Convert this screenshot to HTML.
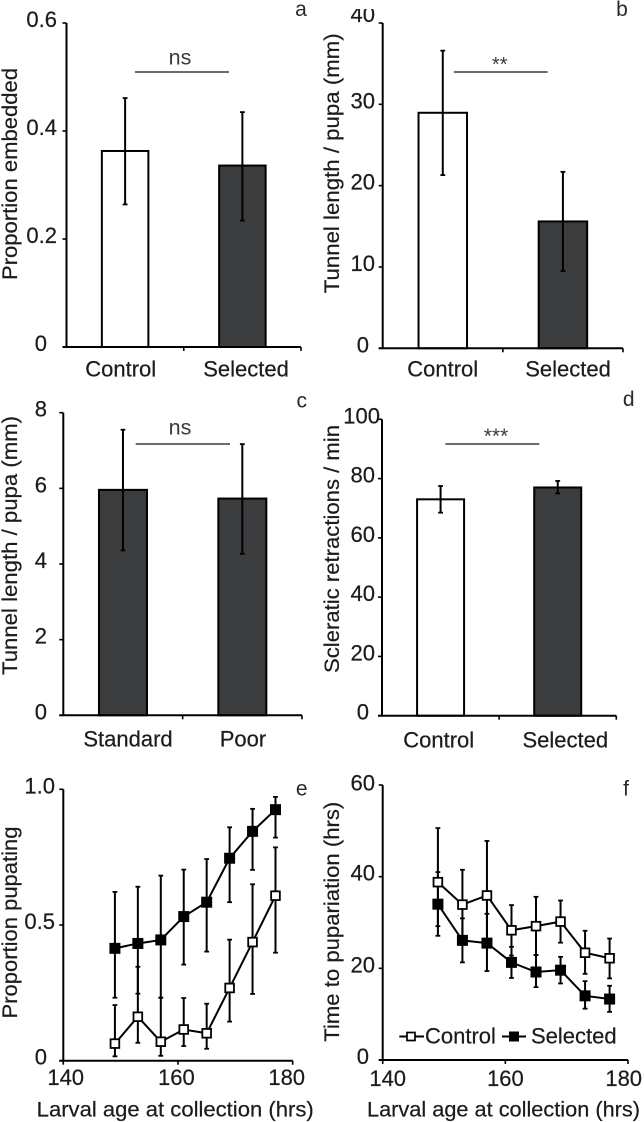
<!DOCTYPE html>
<html lang="en">
<head>
<meta charset="utf-8">
<title>Tunnelling and pupation behaviour charts</title>
<style>
html,body{margin:0;padding:0;background:#fff;}
svg{display:block;}
text{font-family:"Liberation Sans",Arial,sans-serif;fill:#1c1c1c;stroke:#1c1c1c;stroke-width:.22px;}
</style>
</head>
<body>
<svg id="figure" xmlns="http://www.w3.org/2000/svg" width="644" height="1122" viewBox="0 0 644 1122"></svg>
<script>
// Panel a
const catsA = ['Control', 'Selected'];
const valsA = [0.363, 0.336];
const highA = [0.461, 0.435];
const lowA = [0.264, 0.234];
const ticksA = ['0', '0.2', '0.4', '0.6'];
const fillsA = ['control', 'selected'];
// Panel b
const catsB = ['Control', 'Selected'];
const valsB = [28.96, 15.6];
const highB = [36.6, 21.7];
const lowB = [21.3, 9.5];
const ticksB = ['0', '10', '20', '30', '40'];
const fillsB = ['control', 'selected'];
// Panel c
const catsC = ['Standard', 'Poor'];
const valsC = [5.96, 5.73];
const highC = [7.55, 7.17];
const lowC = [4.36, 4.27];
const ticksC = ['0', '2', '4', '6', '8'];
const fillsC = ['selected', 'selected'];
// Panel d
const catsD = ['Control', 'Selected'];
const valsD = [73, 77];
const highD = [77.5, 79.2];
const lowD = [68.5, 75];
const ticksD = ['0', '20', '40', '60', '80', '100'];
const fillsD = ['control', 'selected'];
// Panel e
const hoursE = [149, 153, 157, 161, 165, 169, 173, 177];
const controlE = [0.063, 0.162, 0.07, 0.115, 0.101, 0.268, 0.437, 0.608];
const controlHighE = [0.205, 0.346, 0.232, 0.231, 0.21, 0.446, 0.65, 0.786];
const controlLowE = [0.016, 0.066, 0.018, 0.054, 0.044, 0.144, 0.246, 0.398];
const selectedE = [0.414, 0.432, 0.445, 0.531, 0.584, 0.746, 0.845, 0.925];
const selectedHighE = [0.622, 0.641, 0.682, 0.704, 0.743, 0.86, 0.928, 0.972];
const selectedLowE = [0.232, 0.247, 0.232, 0.354, 0.402, 0.584, 0.703, 0.822];
const yTicksE = ['0', '0.5', '1.0'];
const xTicksE = ['140', '160', '180'];
// Panel f
const hoursF = [149, 153, 157, 161, 165, 169, 173, 177];
const controlF = [38.8, 33.9, 35.9, 28.3, 29.2, 30.2, 23.4, 22.2];
const controlHighF = [50.6, 41.5, 47.8, 33.8, 35.6, 34.8, 28.2, 26.5];
const controlLowF = [29.2, 26.5, 24.7, 22.8, 22.9, 25.6, 18.8, 17.8];
const selectedF = [34.0, 26.1, 25.5, 21.3, 19.2, 19.6, 14.0, 13.3];
const selectedHighF = [41, 30.9, 31.9, 24.7, 22.9, 22.5, 17.2, 16.2];
const selectedLowF = [27.1, 21.3, 19.4, 17.9, 15.9, 16.7, 11.2, 10.5];
const yTicksF = ['0', '20', '40', '60'];
const xTicksF = ['140', '160', '180'];

const svg = document.getElementById('figure');
const INK = '#000';
const DARK = '#3a3c3e';

function el(tag, attrs, parent, txt) {
  const n = document.createElementNS('http://www.w3.org/2000/svg', tag);
  for (const k in attrs) n.setAttribute(k, attrs[k]);
  if (txt !== undefined) n.textContent = txt;
  (parent || svg).appendChild(n);
  return n;
}
function linear(d0, d1, r0, r1) {
  return function (v) { return r0 + (v - d0) / (d1 - d0) * (r1 - r0); };
}

function drawFrame(g, L, yTicks, yScale) {
  const yAxis = el('line', {x1: L.left, x2: L.left, y1: L.top, y2: L.bottom, stroke: INK, 'stroke-width': 2}, g);
  
  
  const xAxis = el('line', {x1: L.left - 4, x2: L.right, y1: L.bottom, y2: L.bottom, stroke: INK, 'stroke-width': 2}, g);
  
  
  yTicks.forEach(function (t, i) {
    const y = yScale(Number(t));
    const tick = el('line', {x1: L.left - 4, x2: L.left, y1: y, y2: y, stroke: INK, 'stroke-width': 1.6}, g);
    
    
    const right = Number(t) === 0 ? L.zeroRight : L.tickRight + (t.length === 3 && L.wide ? 5 : 0);
    const isTop = i === yTicks.length - 1;
    const baseline = y + 4 + (isTop && L.topNudge ? L.topNudge : 0);
    const lab = el('text', {x: right, y: baseline, 'text-anchor': 'end', 'font-size': 22}, g, t);
    
    
  });
  const title = el('text', {
    transform: 'translate(' + L.titleX + ',' + L.titleY + ') rotate(-90)',
    'text-anchor': 'middle', 'font-size': 21.5, textLength: L.titleLen, lengthAdjust: 'spacingAndGlyphs'
  }, g, L.title);
  
  
  const letter = el('text', {x: L.letterX, y: L.letterY, 'text-anchor': 'middle', 'font-size': 21, style: 'fill:#2a2a2a;stroke:none'}, g, L.letter);
  
  
}

function drawErr(g, x, yHi, yLo, cap) {
  const stem = el('line', {x1: x, x2: x, y1: yHi, y2: yLo, stroke: INK, 'stroke-width': 2}, g);
  
  
  const top = el('line', {x1: x - cap, x2: x + cap, y1: yHi, y2: yHi, stroke: INK, 'stroke-width': 1.8}, g);
  
  
  const bot = el('line', {x1: x - cap, x2: x + cap, y1: yLo, y2: yLo, stroke: INK, 'stroke-width': 1.8}, g);
  
  
}

function drawBars(L, cats, vals, high, low, ticks, fills) {
  const g = el('g', {}, svg);
  
  
  const maxV = Number(ticks[ticks.length - 1]);
  const y = linear(0, maxV, L.bottom, L.top);
  const band = (L.right - L.left) / cats.length;
  const x = function (i) { return L.left + band * (i + 0.5); };
  cats.forEach(function (c, i) {
    const rect = el('rect', {
      x: x(i) - L.barW / 2, y: y(vals[i]), width: L.barW, height: L.bottom - y(vals[i]),
      fill: fills[i] === 'control' ? '#fff' : DARK, stroke: INK, 'stroke-width': 2
    }, g);
    
    
  });
  drawFrame(g, L, ticks, y);
  cats.forEach(function (c, i) {
    const tick = el('line', {x1: L.left + band * (i + 1), x2: L.left + band * (i + 1), y1: L.bottom, y2: L.bottom + 4, stroke: INK, 'stroke-width': 1.6}, g);
    
    
    drawErr(g, x(i), y(high[i]), y(low[i]), 2.4);
    const lab = el('text', {x: L.catX[i], y: L.catY, 'text-anchor': 'middle', 'font-size': 22}, g, c);
    
    
  });
  const sig = el('line', {x1: L.sigX1, x2: L.sigX2, y1: L.sigY, y2: L.sigY, stroke: '#3c3c3c', 'stroke-width': 1.6}, g);
  
  
  const sigT = el('text', {x: L.sigTextX, y: L.sigTextY, 'text-anchor': 'middle', 'font-size': L.sigSize, style: 'fill:#3a3a3a;stroke:none'}, g, L.sigText);
  
  
}

function drawSeries(g, kind, xs, ys, yh, yl, x, y, markerSize) {
  const line = el('polyline', {
    points: xs.map(function (h, i) { return x(h) + ',' + y(ys[i]); }).join(' '),
    fill: 'none', stroke: INK, 'stroke-width': 2
  }, g);
  
  
  xs.forEach(function (h, i) {
    drawErr(g, x(h), y(yh[i]), y(yl[i]), 2.4);
  });
  xs.forEach(function (h, i) {
    const filled = kind === 'selected';
    const inset = filled ? 0 : 0.9;
    const s = markerSize - inset * 2;
    const m = el('rect', {
      x: x(h) - s / 2, y: y(ys[i]) - s / 2, width: s, height: s,
      fill: filled ? '#000' : '#fff', stroke: filled ? 'none' : INK, 'stroke-width': filled ? 0 : 1.8
    }, g);
    
    
  });
}

function drawLines(L, xTicks, yTicks, hours, cv, ch, cl, sv, sh, sl) {
  const g = el('g', {}, svg);
  
  
  const y = linear(0, Number(yTicks[yTicks.length - 1]), L.bottom, L.top);
  const x = linear(Number(xTicks[0]), Number(xTicks[xTicks.length - 1]), L.left, L.right);
  drawFrame(g, L, yTicks, y);
  xTicks.forEach(function (t, i) {
    const px = x(Number(t));
    const tick = el('line', {x1: px, x2: px, y1: L.bottom, y2: L.bottom + 4, stroke: INK, 'stroke-width': 1.6}, g);
    
    
    const lab = el('text', {x: px + L.xNudge[i], y: L.xTickY, 'text-anchor': 'middle', 'font-size': 22}, g, t);
    
    
  });
  const xt = el('text', {x: L.xTitleX, y: L.xTitleY, 'font-size': 21.5, textLength: L.xTitleLen, lengthAdjust: 'spacingAndGlyphs'}, g, 'Larval age at collection (hrs)');
  
  
  drawSeries(g, 'selected', hours, sv, sh, sl, x, y, 11);
  drawSeries(g, 'control', hours, cv, ch, cl, x, y, 10.5);
}

drawBars({
  name: 'panel-a', left: 66.5, right: 301, top: 23, bottom: 347, barW: 46.5,
  tickRight: 57, zeroRight: 47, title: 'Proportion embedded', titleX: 17, titleY: 174, titleLen: 212,
  letter: 'a', letterX: 301, letterY: 16, catX: [120.7, 246], catY: 376.7,
  sigX1: 135, sigX2: 229, sigY: 72, sigText: 'ns', sigTextX: 180, sigTextY: 64.3, sigSize: 21.5
}, catsA, valsA, highA, lowA, ticksA, fillsA);

drawBars({
  name: 'panel-b', left: 382.7, right: 623, top: 23, bottom: 348.3, barW: 48.5, topNudge: -5,
  tickRight: 375, zeroRight: 369, title: 'Tunnel length / pupa (mm)', titleX: 339, titleY: 163.3, titleLen: 260,
  letter: 'b', letterX: 622, letterY: 16, catX: [442.7, 568], catY: 376.7,
  sigX1: 453.7, sigX2: 547.7, sigY: 72, sigText: '**', sigTextX: 499.7, sigTextY: 71, sigSize: 20
}, catsB, valsB, highB, lowB, ticksB, fillsB);

const topMask = el('rect', {x: 340, y: 0, width: 60, height: 9, fill: '#fff'});



drawBars({
  name: 'panel-c', left: 63.3, right: 302, top: 412.7, bottom: 715.3, barW: 48,
  tickRight: 47, zeroRight: 47, title: 'Tunnel length / pupa (mm)', titleX: 17, titleY: 545.5, titleLen: 259,
  letter: 'c', letterX: 301.7, letterY: 407.7, catX: [128, 243], catY: 746.7,
  sigX1: 135.7, sigX2: 230, sigY: 444, sigText: 'ns', sigTextX: 180, sigTextY: 434.3, sigSize: 21.5
}, catsC, valsC, highC, lowC, ticksC, fillsC);

drawBars({
  name: 'panel-d', left: 382, right: 616.3, top: 419.3, bottom: 715.7, barW: 47,
  tickRight: 375, zeroRight: 369, wide: true, title: 'Scleratic retractions / min', titleX: 339, titleY: 549, titleLen: 248,
  letter: 'd', letterX: 628.7, letterY: 406, catX: [438.7, 565.3], catY: 747.7,
  sigX1: 445.3, sigX2: 539.3, sigY: 444, sigText: '***', sigTextX: 496, sigTextY: 443, sigSize: 21
}, catsD, valsD, highD, lowD, ticksD, fillsD);

drawLines({
  name: 'panel-e', left: 63.3, right: 292.7, top: 789.3, bottom: 1060.7,
  tickRight: 55, zeroRight: 47, title: 'Proportion pupating', titleX: 17, titleY: 922.5, titleLen: 192,
  letter: 'e', letterX: 301.7, letterY: 795.7, xNudge: [2.4, -1.6, -6], xTickY: 1085,
  xTitleX: 36.7, xTitleY: 1116.7, xTitleLen: 277
}, xTicksE, yTicksE, hoursE, controlE, controlHighE, controlLowE, selectedE, selectedHighE, selectedLowE);

drawLines({
  name: 'panel-f', left: 382.7, right: 628, top: 785, bottom: 1060, topNudge: 1.7,
  tickRight: 375, zeroRight: 369, title: 'Time to pupariation (hrs)', titleX: 339, titleY: 921.7, titleLen: 240,
  letter: 'f', letterX: 626, letterY: 795.7, xNudge: [5, 0, -4.3], xTickY: 1086,
  xTitleX: 367, xTitleY: 1116.7, xTitleLen: 273
}, xTicksF, yTicksF, hoursF, controlF, controlHighF, controlLowF, selectedF, selectedHighF, selectedLowF);

const legend = el('g', {});


const legLineC = el('line', {x1: 399.3, x2: 424, y1: 1036.5, y2: 1036.5, stroke: INK, 'stroke-width': 2}, legend);


const legMarkC = el('rect', {x: 407, y: 1032.5, width: 8, height: 8, fill: '#fff', stroke: INK, 'stroke-width': 1.7}, legend);


const legTextC = el('text', {x: 425, y: 1043.5, 'font-size': 22}, legend, 'Control');


const legLineS = el('line', {x1: 502, x2: 526, y1: 1036.5, y2: 1036.5, stroke: INK, 'stroke-width': 2}, legend);


const legMarkS = el('rect', {x: 509, y: 1031.5, width: 10, height: 10, fill: '#000'}, legend);


const legTextS = el('text', {x: 531, y: 1043.5, 'font-size': 22}, legend, 'Selected');


</script>
</body>
</html>
